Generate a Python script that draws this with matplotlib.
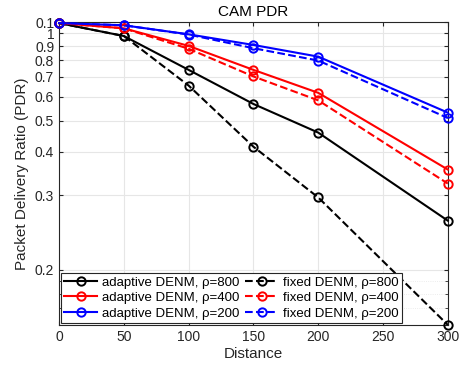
import numpy as np
import matplotlib
matplotlib.use("Agg")
from matplotlib import pyplot as plt

plt.rcParams['font.family'] = ['Liberation Sans', 'DejaVu Sans']

distance = [0, 50, 100, 150, 200, 300]

adaptive_800 = [1.09, 0.978, 0.741, 0.567, 0.458, 0.258]
adaptive_400 = [1.09, 1.043, 0.901, 0.741, 0.618, 0.354]
adaptive_200 = [1.09, 1.070, 0.992, 0.908, 0.825, 0.531]
fixed_800 = [1.09, 0.978, 0.654, 0.414, 0.296, 0.160]
fixed_400 = [1.09, 1.043, 0.880, 0.703, 0.583, 0.323]
fixed_200 = [1.09, 1.070, 0.990, 0.884, 0.799, 0.510]

ytick_vals = [0.2, 0.3, 0.4, 0.5, 0.6, 0.7, 0.8, 0.9, 1.0, 1.1]
ytick_labels = ["0.2", "0.3", "0.4", "0.5", "0.6", "0.7", "0.8", "0.9", "1", "0.1"]
yminor_vals = [0.17, 0.18, 0.19]

def fwd(y):
    return np.log10(np.clip(10 * np.asarray(y) - 1, 1e-6, None))

def inv(v):
    return (10 ** np.asarray(v) + 1) / 10

fig = plt.figure(figsize=(4.65, 3.73), dpi=100)
ax = fig.add_axes([0.127, 0.129, 0.836, 0.812])
ax.set_yscale('function', functions=(fwd, inv))

# legend fills column by column: adaptive ones first, then fixed
series = [
    (adaptive_800, 'k', '-', 'adaptive DENM, \u03c1=800'),
    (adaptive_400, 'r', '-', 'adaptive DENM, \u03c1=400'),
    (adaptive_200, 'b', '-', 'adaptive DENM, \u03c1=200'),
    (fixed_800, 'k', '--', 'fixed DENM, \u03c1=800'),
    (fixed_400, 'r', '--', 'fixed DENM, \u03c1=400'),
    (fixed_200, 'b', '--', 'fixed DENM, \u03c1=200'),
]
for vals, c, ls, lab in series:
    ax.plot(distance, vals, color=c, linestyle=ls, marker='o', markersize=6,
            markerfacecolor='none', markeredgewidth=1.4, linewidth=1.5,
            label=lab, clip_on=False, zorder=3)

ax.set_xlim(0, 300)
ax.set_ylim(0.16, 1.1)
ax.set_xticks([0, 50, 100, 150, 200, 250, 300])
ax.set_yticks(ytick_vals)
ax.set_yticklabels(ytick_labels)
ax.set_yticks(yminor_vals, minor=True)
ax.tick_params(axis='both', which='both', direction='in', top=True, right=True,
               labelsize=10, colors='#262626', length=3)
ax.tick_params(axis='y', which='minor', length=2)
ax.grid(True, which='major', color='#e6e6e6', linewidth=0.8)
ax.grid(True, which='minor', axis='y', color='#e6e6e6', linewidth=0.6, linestyle=':')
ax.set_axisbelow(True)
for s in ax.spines.values():
    s.set_color('#262626')
    s.set_linewidth(0.8)

ax.set_xlabel('Distance', fontsize=11, color='#262626', labelpad=2)
ax.set_ylabel('Packet Delivery Ratio (PDR)', fontsize=11, color='#262626', labelpad=4)
ax.set_title('CAM PDR', fontsize=11, color='#000000', pad=4)

leg = ax.legend(loc='lower left', ncol=2,
                fontsize=9.5, handlelength=2.5, handletextpad=0.35, columnspacing=0.45,
                borderaxespad=0.15, borderpad=0.25, labelspacing=0.25,
                fancybox=False, framealpha=1, edgecolor='#262626')
leg.get_frame().set_linewidth(0.8)

fig.savefig('out.png', dpi=100)
